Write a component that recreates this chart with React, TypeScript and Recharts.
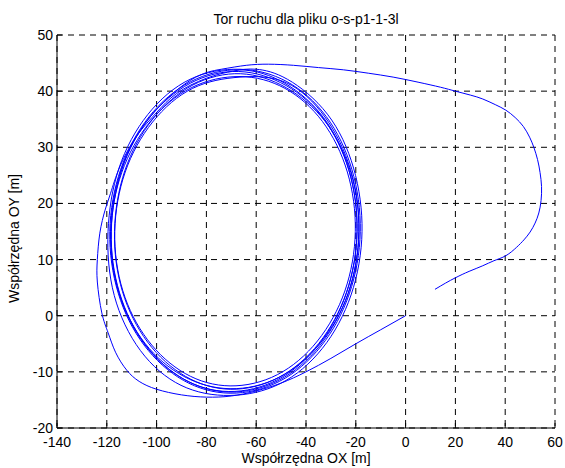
import { CartesianGrid, Line, LineChart, XAxis, YAxis } from "recharts";

type Pt = [number, number];

const title = "Tor ruchu dla pliku o-s-p1-1-3l";
const xLabel = "Współrzędna OX [m]";
const yLabel = "Współrzędna OY [m]";

const xTicks = [-140, -120, -100, -80, -60, -40, -20, 0, 20, 40, 60];
const yTicks = [-20, -10, 0, 10, 20, 30, 40, 50];

// start at (0,0), sweep under and round the left of the first wide loop
const approach: Pt[] = [
  [0, 0], [-10, -2.5], [-20, -5], [-30, -7.6], [-40, -10], [-50, -12], [-60, -13.4],
  [-70, -14.3], [-80, -14.5], [-90, -14.1], [-100, -13.1], [-107, -11.7], [-112, -9.7],
  [-116.5, -6.5], [-119.5, -3], [-122, 0.5], [-123.8, 6], [-123.8, 10], [-122.8, 14.7],
  [-120.7, 18.8], [-118.5, 21.8], [-114.7, 26.6], [-108, 32], [-100, 36.2], [-91.9, 39.6],
  [-80, 42.3], [-69, 43.6], [-60, 43.9],
];

// clockwise laps, each from just right of the top back to the top
const loop1: Pt[] = [
  [-47.4, 42.1], [-31.4, 35.9], [-20.9, 26.3], [-17.5, 15], [-21.9, 3.7], [-33.4, -5.8],
  [-50.4, -12.1], [-70.5, -14.2], [-90.2, -12.4], [-106.5, -6.2], [-117, 3.6], [-119.5, 15],
  [-115.1, 26.3], [-103.6, 35.8], [-86.6, 42.1], [-66.5, 43.9],
];
const loop2: Pt[] = [
  [-47.7, 41.7], [-31.9, 35.5], [-21.6, 26.1], [-18.2, 15], [-22.6, 3.9], [-33.9, -5.4],
  [-50.7, -11.7], [-70.5, -13.8], [-89.3, -11.5], [-105.1, -5.2], [-115.4, 4], [-118.8, 15],
  [-114.4, 26.1], [-103.1, 35.4], [-86.3, 41.7], [-66.5, 43.8],
];
const loop3: Pt[] = [
  [-48.5, 41.4], [-33, 35.3], [-22.8, 26], [-19.5, 15], [-23.8, 4], [-35, -5.2],
  [-51.5, -11.4], [-71, -13.5], [-89.5, -11.2], [-105, -5], [-115.2, 4.1], [-118.5, 15],
  [-114.2, 26], [-103, 35.2], [-86.5, 41.4], [-67, 43.5],
];
const loop4: Pt[] = [
  [-48, 41], [-32.8, 35], [-22.7, 25.8], [-19.5, 15], [-23.7, 4.2], [-34.8, -4.9],
  [-51, -11], [-70.2, -13.1], [-88.4, -10.8], [-103.6, -4.7], [-113.7, 4.3], [-116.9, 15],
  [-112.7, 25.9], [-101.6, 35], [-85.4, 41.1], [-66.2, 43.1],
];
const loop5: Pt[] = [
  [-47.9, 40.6], [-32.3, 34.6], [-22, 25.5], [-18.7, 14.8], [-23, 4], [-34.3, -4.9],
  [-50.9, -11], [-70.5, -13], [-89.1, -10.8], [-104.7, -4.9], [-115, 4], [-118.3, 14.8],
  [-114, 25.5], [-102.7, 34.5], [-86.1, 40.6], [-66.5, 42.6],
];
const loop6: Pt[] = [
  [-48.5, 40.5], [-33.4, 34.6], [-23.4, 25.6], [-20.2, 15], [-24.4, 4.4], [-35.4, -4.5],
  [-51.5, -10.5], [-70.5, -12.5], [-88.5, -10.3], [-103.6, -4.3], [-113.6, 4.5], [-116.8, 15],
  [-112.6, 25.6], [-101.6, 34.5], [-85.5, 40.5], [-66.5, 42.5],
];
const loop7: Pt[] = [
  [-47.9, 41.5], [-32.4, 35.4], [-22.1, 26], [-18.8, 15], [-23.1, 4], [-34.4, -5.3],
  [-50.9, -11.5], [-70.5, -13.6], [-89.1, -11.3], [-104.6, -5.1], [-114.9, 4.1], [-118.2, 15],
  [-113.9, 26.1], [-102.6, 35.4], [-86.2, 42],
];

// leaves over the top, swings out right and ends at (12, 5)
const departure: Pt[] = [
  [-74, 43.9], [-64, 44.6], [-55, 44.8], [-45, 44.6], [-35, 44.2], [-25, 43.8], [-15, 43.2],
  [-5, 42.5], [5, 41.6], [14, 40.7], [20, 40], [26, 39.3], [31, 38.6], [36, 37.6],
  [40.3, 36.6], [44, 35.3], [47.3, 33.7], [49.8, 31.8], [51.5, 30], [53, 27.8], [54, 25.5],
  [54.6, 23], [54.4, 20.5], [53.5, 18.3], [52, 16.5], [50, 14.9], [47.5, 13.5], [44.6, 12.2],
  [40.3, 10.7], [35.5, 9.8], [31, 8.9], [25.5, 7.9], [20.2, 6.8], [16, 5.8], [11.8, 4.7],
];

const path = [
  ...approach, ...loop1, ...loop2, ...loop3, ...loop4, ...loop5, ...loop6, ...loop7, ...departure,
].map(([x, y]) => ({ x, y }));

const FONT = '"Liberation Sans", Arial, Helvetica, sans-serif';
const FS = 14;
const TICK = 5;

function BottomTick(props: any) {
  const { x, y, payload } = props;
  const axisY = y - 9;
  return (
    <g>
      <line x1={x} y1={axisY} x2={x} y2={axisY - TICK} stroke="#000" />
      <text x={x} y={y} dy="0.71em" textAnchor="middle" fontSize={FS} fontFamily={FONT} fill="#000">
        {String(payload.value)}
      </text>
    </g>
  );
}

function LeftTick(props: any) {
  const { x, y, payload } = props;
  const axisX = x + 4;
  return (
    <g>
      <line x1={axisX} y1={y} x2={axisX + TICK} y2={y} stroke="#000" />
      <text x={x} y={y} dy="0.36em" textAnchor="end" fontSize={FS} fontFamily={FONT} fill="#000">
        {String(payload.value)}
      </text>
    </g>
  );
}

function TopTick(props: any) {
  const { x, y } = props;
  return <line x1={x} y1={y} x2={x} y2={y + TICK} stroke="#000" />;
}

function RightTick(props: any) {
  const { x, y } = props;
  return <line x1={x} y1={y} x2={x - TICK} y2={y} stroke="#000" />;
}

function XTitle(props: any) {
  const vb = props.viewBox;
  return (
    <text x={vb.x + vb.width / 2} y={vb.y + 35} textAnchor="middle" fontSize={FS} fontFamily={FONT} fill="#000">
      {xLabel}
    </text>
  );
}

function YTitle(props: any) {
  const vb = props.viewBox;
  const cy = vb.y + vb.height / 2 + 7;
  return (
    <text
      transform={`translate(19, ${cy}) rotate(-90)`}
      textAnchor="middle"
      fontSize={FS}
      fontFamily={FONT}
      fill="#000"
    >
      {yLabel}
    </text>
  );
}

export default function App() {
  return (
    <div style={{ position: "absolute", left: 0, top: 0, width: 565, height: 468, background: "#fff" }}>
      <div
        style={{
          position: "absolute",
          left: 57,
          top: 11,
          width: 498,
          textAlign: "center",
          fontFamily: FONT,
          fontSize: FS,
          lineHeight: "16px",
          color: "#000",
        }}
      >
        {title}
      </div>
      <LineChart
        width={565}
        height={468}
        data={path}
        margin={{ top: 35, right: 10, bottom: 0, left: 0 }}
      >
        <CartesianGrid stroke="#000" strokeDasharray="6 5" />
        <XAxis
          dataKey="x"
          type="number"
          domain={[-140, 60]}
          ticks={xTicks}
          interval={0}
          allowDataOverflow
          height={40}
          stroke="#000"
          tickLine={false}
          tickSize={0}
          tickMargin={9}
          tick={BottomTick}
          label={XTitle}
        />
        <XAxis
          xAxisId="top"
          orientation="top"
          dataKey="x"
          type="number"
          domain={[-140, 60]}
          ticks={xTicks}
          interval={0}
          height={0}
          stroke="#000"
          tickLine={false}
          tickSize={0}
          tickMargin={0}
          tick={TopTick}
        />
        <YAxis
          type="number"
          domain={[-20, 50]}
          ticks={yTicks}
          interval={0}
          allowDataOverflow
          width={57}
          stroke="#000"
          tickLine={false}
          tickSize={0}
          tickMargin={4}
          tick={LeftTick}
          label={YTitle}
        />
        <YAxis
          yAxisId="right"
          orientation="right"
          type="number"
          domain={[-20, 50]}
          ticks={yTicks}
          interval={0}
          width={0}
          stroke="#000"
          tickLine={false}
          tickSize={0}
          tickMargin={0}
          tick={RightTick}
        />
        <Line
          dataKey="y"
          type="natural"
          stroke="#0000ff"
          strokeWidth={1}
          dot={false}
          activeDot={false}
          isAnimationActive={false}
        />
      </LineChart>
    </div>
  );
}
